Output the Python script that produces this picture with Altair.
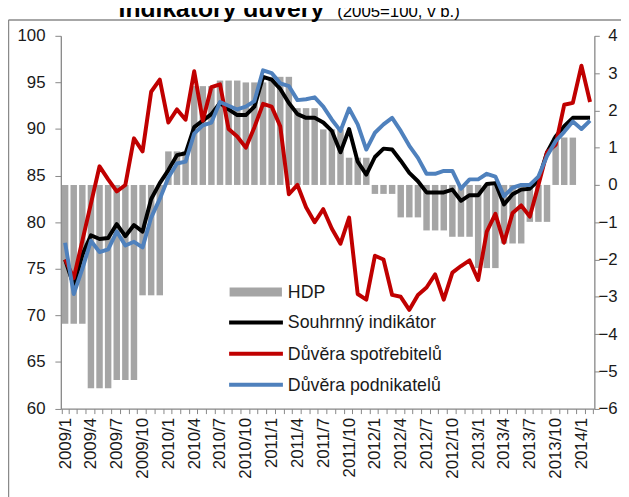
import altair as alt
import pandas as pd

# ---- data ----
mesice = [f"{r}/{m}" for r in range(2009, 2015) for m in range(1, 13)][:62]

souhrnny = [76.0, 73.2, 76.5, 78.6, 78.2, 78.3, 79.8, 78.5, 79.7, 79.0,
            82.5, 84.2, 85.6, 87.2, 87.4, 90.2, 90.9, 91.6, 92.8, 92.1,
            91.5, 91.5, 92.4, 95.6, 95.3, 94.3, 92.8, 91.6, 91.2, 91.2,
            90.7, 89.8, 87.5, 90.0, 86.5, 85.1, 87.0, 87.9, 87.8, 86.6,
            85.3, 84.4, 83.2, 83.2, 83.2, 83.5, 82.3, 82.9, 82.9, 84.1,
            84.2, 81.9, 83.0, 83.5, 83.6, 84.5, 87.5, 89.2, 90.3, 91.2,
            91.2, 91.2]

spotrebitele = [76.0, 74.0, 78.0, 82.0, 86.0, 84.6, 83.3, 84.0, 89.0, 87.6,
                94.0, 95.3, 90.7, 92.1, 91.0, 96.2, 90.9, 94.5, 94.8, 90.0,
                89.2, 88.0, 90.2, 92.7, 92.4, 90.3, 83.0, 84.0, 81.6, 80.0,
                81.4, 79.3, 77.7, 80.5, 72.3, 71.7, 76.4, 76.0, 72.2, 72.0,
                70.6, 72.2, 73.0, 74.4, 71.7, 74.6, 75.3, 75.9, 73.8, 79.0,
                80.9, 77.8, 81.0, 81.8, 80.6, 84.0, 87.5, 88.3, 92.6, 92.8,
                96.8, 92.9]

podnikatele = [77.8, 72.3, 75.0, 78.0, 76.8, 77.1, 79.0, 77.5, 77.9, 77.3,
               80.5, 82.5, 84.8, 86.3, 86.5, 89.5, 90.4, 90.7, 92.9, 92.5,
               92.1, 92.4, 93.0, 96.3, 96.0, 94.9, 94.6, 93.1, 93.2, 93.4,
               92.4, 91.0, 89.8, 92.2, 90.5, 87.8, 89.6, 90.5, 91.2, 89.8,
               88.2, 86.9, 85.2, 85.2, 85.5, 85.5, 83.6, 84.6, 84.6, 85.2,
               84.9, 82.8, 83.7, 84.0, 84.0, 84.9, 87.1, 88.7, 89.7, 90.8,
               90.0, 90.9]

# HDP, quarterly (2009Q1 .. 2013Q4), right axis
hdp_ctvrtleti = [-3.72, -5.45, -5.23, -2.96, 0.90, 2.65, 2.80, 2.75, 2.90, 2.06,
                 1.49, 0.73, -0.24, -0.87, -1.22, -1.39, -2.23, -1.57, -0.99, 1.27]
hdp = [v for v in hdp_ctvrtleti for _ in range(3)] + [None, None]

nazvy = ["HDP", "Souhrnný indikátor", "Důvěra spotřebitelů", "Důvěra podnikatelů"]
barvy = ["#A5A5A5", "#000000", "#C00000", "#4F81BD"]
titulek = ["Indikátory důvěry", "(2005=100, v b.)"]

df = pd.DataFrame({"mesic": mesice, "souhrnny": souhrnny,
                   "spotrebitele": spotrebitele, "podnikatele": podnikatele,
                   "hdp": hdp})

FONT = "Liberation Sans"
AX = "#868686"
TXT = "#1a1a1a"

xscale = alt.Scale(paddingInner=0.25, paddingOuter=0.125)
xaxis = alt.Axis(title=None, labelAngle=270, tickBand="extent", tickSize=5,
                 labelExpr="test(/\\/(1|4|7|10)$/, datum.value) ? datum.value : ''",
                 labelOverlap=False, labelFont=FONT, labelFontSize=17,
                 labelColor=TXT, domainColor=AX, tickColor=AX, labelPadding=4,
                 domainWidth=1.3, tickWidth=1)
X = alt.X("mesic:N", sort=mesice, scale=xscale, axis=xaxis)

base = alt.Chart(df)

bars = base.mark_bar(color=barvy[0]).encode(
    x=X,
    y=alt.Y("hdp:Q", scale=alt.Scale(domain=[-6, 4], nice=False),
            axis=alt.Axis(orient="right", title=None, values=list(range(-6, 5)),
                          tickSize=5, labelAlign="right", labelPadding=18,
                          labelFont=FONT, labelFontSize=17, labelColor=TXT,
                          domainColor=AX, tickColor=AX, grid=False,
                          domainWidth=1.3)),
)

ly = alt.Scale(domain=[60, 100], nice=False, zero=False)
laxis = alt.Axis(orient="left", title=None, values=list(range(60, 101, 5)),
                 tickSize=6, labelPadding=10, labelFont=FONT, labelFontSize=17,
                 labelColor=TXT, domainColor=AX, tickColor=AX, grid=False,
                 domainWidth=1.3)

def line(field, color):
    return base.mark_line(color=color, strokeWidth=4, strokeJoin="round").encode(
        x=X, y=alt.Y(f"{field}:Q", scale=ly, axis=laxis))

lines = alt.layer(line("souhrnny", barvy[1]), line("spotrebitele", barvy[2]),
                  line("podnikatele", barvy[3]))

one = lambda n: alt.Chart(pd.DataFrame({"polozka": [n]}))

# ---- legend (drawn inside the plot) ----
leg_y = [259.5, 290.5, 322, 353.5]
leg = []
leg.append(one(nazvy[0]).mark_rect(color=barvy[0]).encode(
    x=alt.value(171), x2=alt.value(224), y=alt.value(leg_y[0] - 4.5),
    y2=alt.value(leg_y[0] + 4.5)))
for k in range(1, 4):
    leg.append(one(nazvy[k]).mark_rule(color=barvy[k], strokeWidth=4).encode(
        x=alt.value(170.5), x2=alt.value(225), y=alt.value(leg_y[k])))
for k in range(4):
    leg.append(one(nazvy[k]).mark_text(align="left", baseline="middle", font=FONT,
                                       fontSize=18, color=TXT).encode(
        x=alt.value(230), y=alt.value(leg_y[k] + 1), text="polozka:N"))

# ---- chart-area frame and the (top-clipped) title ----
frame_l = one("ramec").mark_rule(color="#8a8a8a", strokeWidth=1.5).encode(
    x=alt.value(-53), y=alt.value(-16), y2=alt.value(520))
frame_t = one("ramec").mark_rule(color="#8a8a8a", strokeWidth=1.5).encode(
    x=alt.value(-53), x2=alt.value(600), y=alt.value(-16))
t1 = one(titulek[0]).mark_text(align="left", baseline="alphabetic", font=FONT,
                              fontSize=25, fontWeight="bold", color="#000").encode(
    x=alt.value(58.5), y=alt.value(-19.5), text="polozka:N")
t2 = one(titulek[1]).mark_text(align="left", baseline="alphabetic", font=FONT,
                              fontSize=17, color="#000").encode(
    x=alt.value(280), y=alt.value(-19.5), text="polozka:N")

chart = alt.layer(bars, lines, frame_l, frame_t, t1, t2, *leg).resolve_scale(
    y="independent"
).properties(
    width=540.5, height=377.7,
    autosize=alt.AutoSizeParams(type="none"),
    padding={"left": 53.5, "top": 25, "right": 27, "bottom": 86},
).configure_view(stroke=None)

chart.save("out.html", embed_options={"renderer": "svg", "actions": False})
